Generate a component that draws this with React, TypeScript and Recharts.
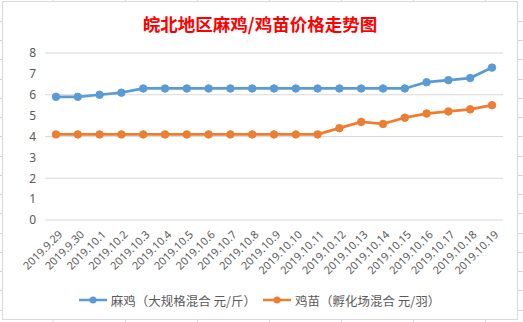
import React from "react";
import { LineChart, Line, XAxis, YAxis, CartesianGrid, Legend } from "recharts";

const categories = [
  "2019.9.29", "2019.9.30", "2019.10.1", "2019.10.2", "2019.10.3", "2019.10.4", "2019.10.5",
  "2019.10.6", "2019.10.7", "2019.10.8", "2019.10.9", "2019.10.10", "2019.10.11", "2019.10.12",
  "2019.10.13", "2019.10.14", "2019.10.15", "2019.10.16", "2019.10.17", "2019.10.18", "2019.10.19",
];
const maji = [5.9, 5.9, 6.0, 6.1, 6.3, 6.3, 6.3, 6.3, 6.3, 6.3, 6.3, 6.3, 6.3, 6.3, 6.3, 6.3, 6.3, 6.6, 6.7, 6.8, 7.3];
const jimiao = [4.1, 4.1, 4.1, 4.1, 4.1, 4.1, 4.1, 4.1, 4.1, 4.1, 4.1, 4.1, 4.1, 4.4, 4.7, 4.6, 4.9, 5.1, 5.2, 5.3, 5.5];
const yTicks = [0, 1, 2, 3, 4, 5, 6, 7, 8];
const seriesNames = ["麻鸡（大规格混合 元/斤）", "鸡苗（孵化场混合 元/羽）"];
const title = "皖北地区麻鸡/鸡苗价格走势图";

const data = categories.map((c, i) => ({ name: c, maji: maji[i], jimiao: jimiao[i] }));

const BLUE = "#5B9BD5";
const ORANGE = "#ED7D31";
const TEXT = "#595959";
const FONT = "'Noto Sans', 'Noto Sans CJK SC', sans-serif";

const XTick = (props: any) => {
  const { x, y, payload } = props;
  const tx = x + 4;
  const ty = y + 4;
  return (
    <text
      x={tx}
      y={ty}
      transform={`rotate(-45, ${tx}, ${ty})`}
      textAnchor="end"
      dominantBaseline="central"
      fill={TEXT}
      fontSize={11}
      fontFamily={FONT}
    >
      {payload.value}
    </text>
  );
};

const LegendContent = () => {
  const items = [
    { name: seriesNames[0], color: BLUE },
    { name: seriesNames[1], color: ORANGE },
  ];
  return (
    <div style={{ display: "flex", justifyContent: "center", alignItems: "center", height: 26, fontFamily: "'Noto Sans CJK SC', sans-serif", fontSize: 12.5, color: TEXT }}>
      {items.map((it, i) => (
        <div key={i} style={{ display: "flex", alignItems: "center", marginLeft: i === 0 ? 0 : 6 }}>
          <svg width={30} height={10} style={{ marginRight: 3 }}>
            <line x1={1} y1={5} x2={29} y2={5} stroke={it.color} strokeWidth={2.5} />
            <circle cx={15} cy={5} r={3.5} fill={it.color} />
          </svg>
          <span>{it.name}</span>
        </div>
      ))}
    </div>
  );
};

const Background = () => {
  const vs = [53, 125.5, 197.5, 269.5, 341.5, 413.5, 485.5];
  const hs: number[] = [];
  for (let k = 1; k < 17; k++) hs.push(1.5 + 19.25 * k);
  return (
    <svg width={523} height={322} style={{ position: "absolute", left: 0, top: 0 }}>
      {vs.map((v) => (
        <line key={"v" + v} x1={v} y1={0} x2={v} y2={322} stroke="#d6d6d6" strokeWidth={1} />
      ))}
      {hs.map((h) => (
        <line key={"h" + h} x1={0} y1={Math.round(h) + 0.5} x2={523} y2={Math.round(h) + 0.5} stroke="#d6d6d6" strokeWidth={1} />
      ))}
    </svg>
  );
};

export default function App() {
  return (
    <div style={{ position: "absolute", left: 0, top: 0, width: 523, height: 322, background: "#fff", overflow: "hidden" }}>
      <Background />
      <div
        style={{
          position: "absolute",
          left: 2,
          top: 1,
          width: 514,
          height: 317,
          background: "#fff",
          border: "1px solid #d9d9d9",
        }}
      >
        <div
          style={{
            position: "absolute",
            left: 0,
            top: 12,
            width: 514,
            textAlign: "center",
            color: "#FF0000",
            fontSize: 17.5,
            fontWeight: "bold",
            fontFamily: "'Noto Sans CJK SC', sans-serif",
            lineHeight: "20px",
          }}
        >
          {title}
        </div>
        <div style={{ position: "absolute", left: 0, top: 0 }}>
          <LineChart width={514} height={317} data={data} margin={{ top: 51, right: 14, bottom: 6, left: 12 }}>
            <CartesianGrid vertical={false} stroke="#d9d9d9" strokeWidth={1} />
            <XAxis
              dataKey="name"
              axisLine={false}
              tickLine={false}
              interval={0}
              height={67}
              padding={{ left: 11, right: 11 }}
              tick={<XTick />}
            />
            <YAxis
              domain={[0, 8]}
              ticks={yTicks}
              width={30}
              axisLine={false}
              tickLine={false}
              tickSize={0}
              tickMargin={9}
              tick={{ fill: TEXT, fontSize: 12, fontFamily: FONT }}
            />
            <Legend verticalAlign="bottom" content={<LegendContent />} />
            <Line
              dataKey="maji"
              name={seriesNames[0]}
              stroke={BLUE}
              strokeWidth={2.75}
              dot={{ r: 3.75, fill: BLUE, stroke: BLUE, strokeWidth: 1 }}
              isAnimationActive={false}
            />
            <Line
              dataKey="jimiao"
              name={seriesNames[1]}
              stroke={ORANGE}
              strokeWidth={2.75}
              dot={{ r: 3.75, fill: ORANGE, stroke: ORANGE, strokeWidth: 1 }}
              isAnimationActive={false}
            />
          </LineChart>
        </div>
      </div>
    </div>
  );
}
